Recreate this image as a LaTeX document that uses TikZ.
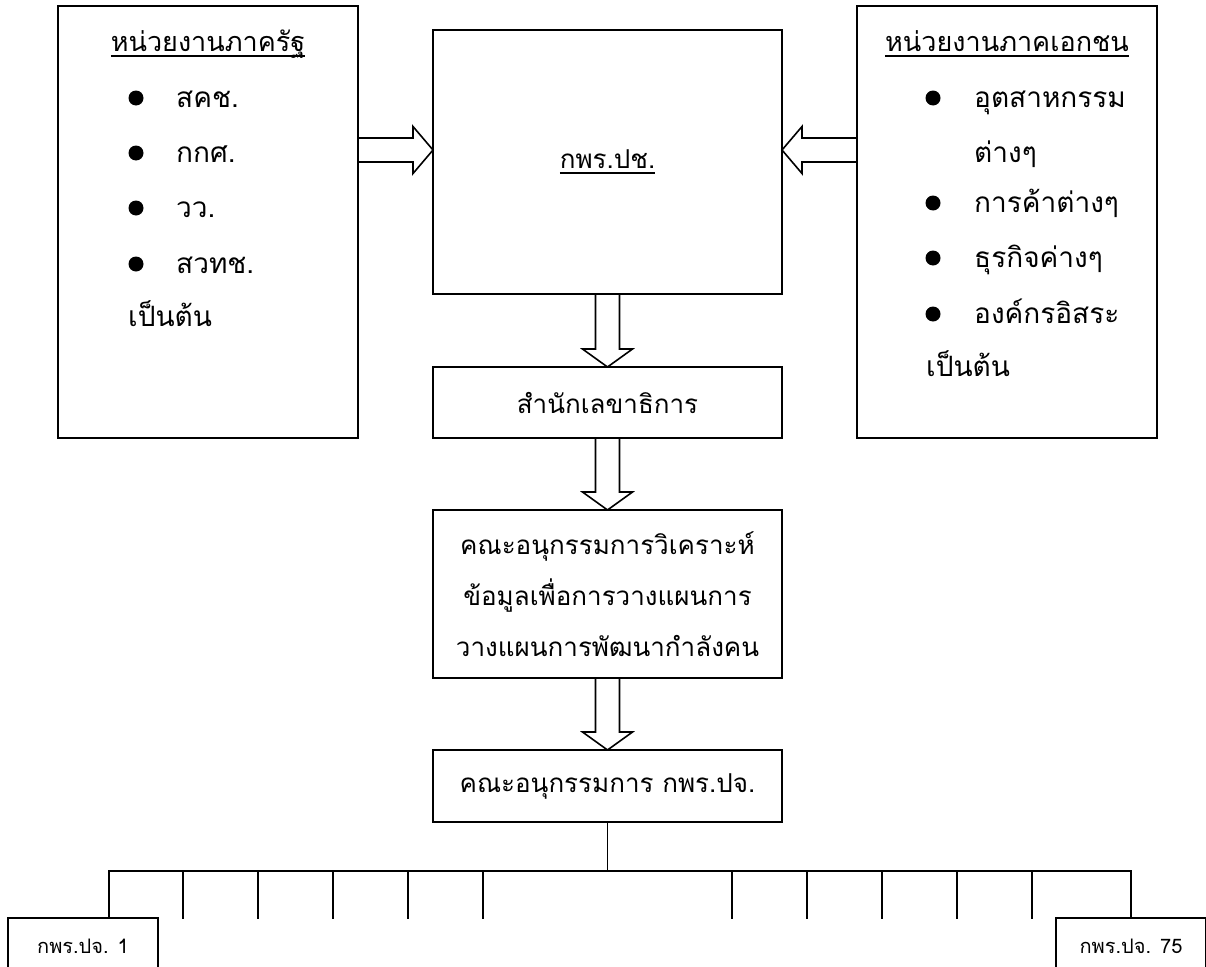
\documentclass[tikz,border=0pt]{standalone}
\usepackage{fontspec}
\setmainfont{Loma}[Script=Thai]
\usetikzlibrary{positioning,calc}

\newsavebox\ulbox
\newcommand{\thul}[1]{\sbox\ulbox{#1}\rlap{\rule[-5pt]{\wd\ulbox}{1.5pt}}\usebox\ulbox}

\begin{document}
\begin{tikzpicture}[
    x=1pt, y=-1pt,
    box/.style={rectangle, draw, line width=1.6pt, outer sep=0pt, inner sep=0pt, minimum width=349pt, align=center, font=\fontsize{26}{51}\selectfont},
    item/.style={anchor=base west, inner sep=0pt, font=\fontsize{28}{30}\selectfont},
    head/.style={anchor=base, inner sep=0pt, font=\fontsize{27}{30}\selectfont},
    small/.style={rectangle, draw, line width=1.6pt, outer sep=0pt, minimum width=150pt, minimum height=56pt, font=\fontsize{20}{22}\selectfont},
    line/.style={line width=1.5pt},
    fatdown/.style={line width=1.6pt, line join=miter, to path={($(\tikztostart)+(-12pt,0)$) -- ($(\tikztotarget)+(-12pt,18pt)$) -- ++(-13pt,0) -- (\tikztotarget) -- ($(\tikztotarget)+(25pt,18pt)$) -- ++(-13pt,0) -- ($(\tikztostart)+(12pt,0)$)}},
    fatright/.style={line width=1.6pt, to path={($(\tikztostart)+(0,12pt)$) -- ($(\tikztotarget)+(-20pt,12pt)$) -- ++(0,11.5pt) -- (\tikztotarget) -- ($(\tikztotarget)+(-20pt,-23.5pt)$) -- ++(0,11.5pt) -- ($(\tikztostart)+(0,-12pt)$)}},
    fatleft/.style={line width=1.6pt, to path={($(\tikztostart)+(0,12pt)$) -- ($(\tikztotarget)+(20pt,12pt)$) -- ++(0,11.5pt) -- (\tikztotarget) -- ($(\tikztotarget)+(20pt,-23.5pt)$) -- ++(0,11.5pt) -- ($(\tikztostart)+(0,-12pt)$)}}
]
    \useasboundingbox (0,0) rectangle (1206,966);
    \clip (0,0) rectangle (1206,966);

    % centre column
    \node[box, minimum height=264pt] (pch) at (607.5,162) {\thul{กพร.ปช.}};
    \node[box, minimum height=71pt, below=73pt of pch] (sec) {สำนักเลขาธิการ};
    \node[box, minimum height=168pt, below=72pt of sec] (ana) {คณะอนุกรรมการวิเคราะห์\\ข้อมูลเพื่อการวางแผนการ\\วางแผนการพัฒนากำลังคน};
    \node[box, minimum height=72pt, below=72pt of ana] (sub) {คณะอนุกรรมการ กพร.ปจ.};

    % public sector
    \node[box, minimum width=300pt, minimum height=432pt, left=75pt of pch.north west, anchor=north east, yshift=24pt] (pub) {};
    \node[head] (pubhead) at (pub.north |- 0,52) {\thul{หน่วยงานภาครัฐ}};
    \foreach \yy/\lbl [count=\i] in {107/สคช., 162/กกศ., 217/วว., 273/สวทช.} {
        \fill (136,\yy-9) circle (7.5pt);
        \node[item] (pubi\i) at (176,\yy) {\lbl};
    }
    \node[item] (pubend) at (128,326) {เป็นต้น};

    % private sector
    \node[box, minimum width=300pt, minimum height=432pt, right=75pt of pch.north east, anchor=north west, yshift=24pt] (pri) {};
    \node[head] (prihead) at (pri.north |- 0,52) {\thul{หน่วยงานภาคเอกชน}};
    \foreach \yy/\lbl [count=\i] in {107/อุตสาหกรรม, 212/การค้าต่างๆ, 267/ธุรกิจค่างๆ, 323/องค์กรอิสระ} {
        \fill (933,\yy-9) circle (7.5pt);
        \node[item] (prii\i) at (974,\yy) {\lbl};
    }
    \node[item] (prii1b) at (974,162) {ต่างๆ};
    \node[item] (priend) at (926,376) {เป็นต้น};

    % block arrows
    \coordinate (pubout) at (pub.east |- 0,150);
    \coordinate (pchinl) at (pch.west |- 0,150);
    \coordinate (priout) at (pri.west |- 0,150);
    \coordinate (pchinr) at (pch.east |- 0,150);
    \draw[fatright] (pubout) to (pchinl);
    \draw[fatleft] (priout) to (pchinr);
    \draw[fatdown] (pch.south) to (sec.north);
    \draw[fatdown] (sec.south) to (ana.north);
    \draw[fatdown] (ana.south) to (sub.north);

    % sub-committees
    \node[small] (gp1) at (83,946) {กพร.ปจ. 1};
    \node[small] (gp75) at (1131,946) {กพร.ปจ. 75};
    \coordinate (bus) at (sub.south |- 0,871);
    \draw[line] (sub.south) -- (bus);
    \draw[line] (gp1.north -| 109,0) -- (109,871) -- (1131,871) -- (gp75.north);
    \foreach \x in {183,258,333,408,483,732,807,882,957,1032}
        \draw[line] (\x,871) -- (\x,919);

\end{tikzpicture}
\end{document}
